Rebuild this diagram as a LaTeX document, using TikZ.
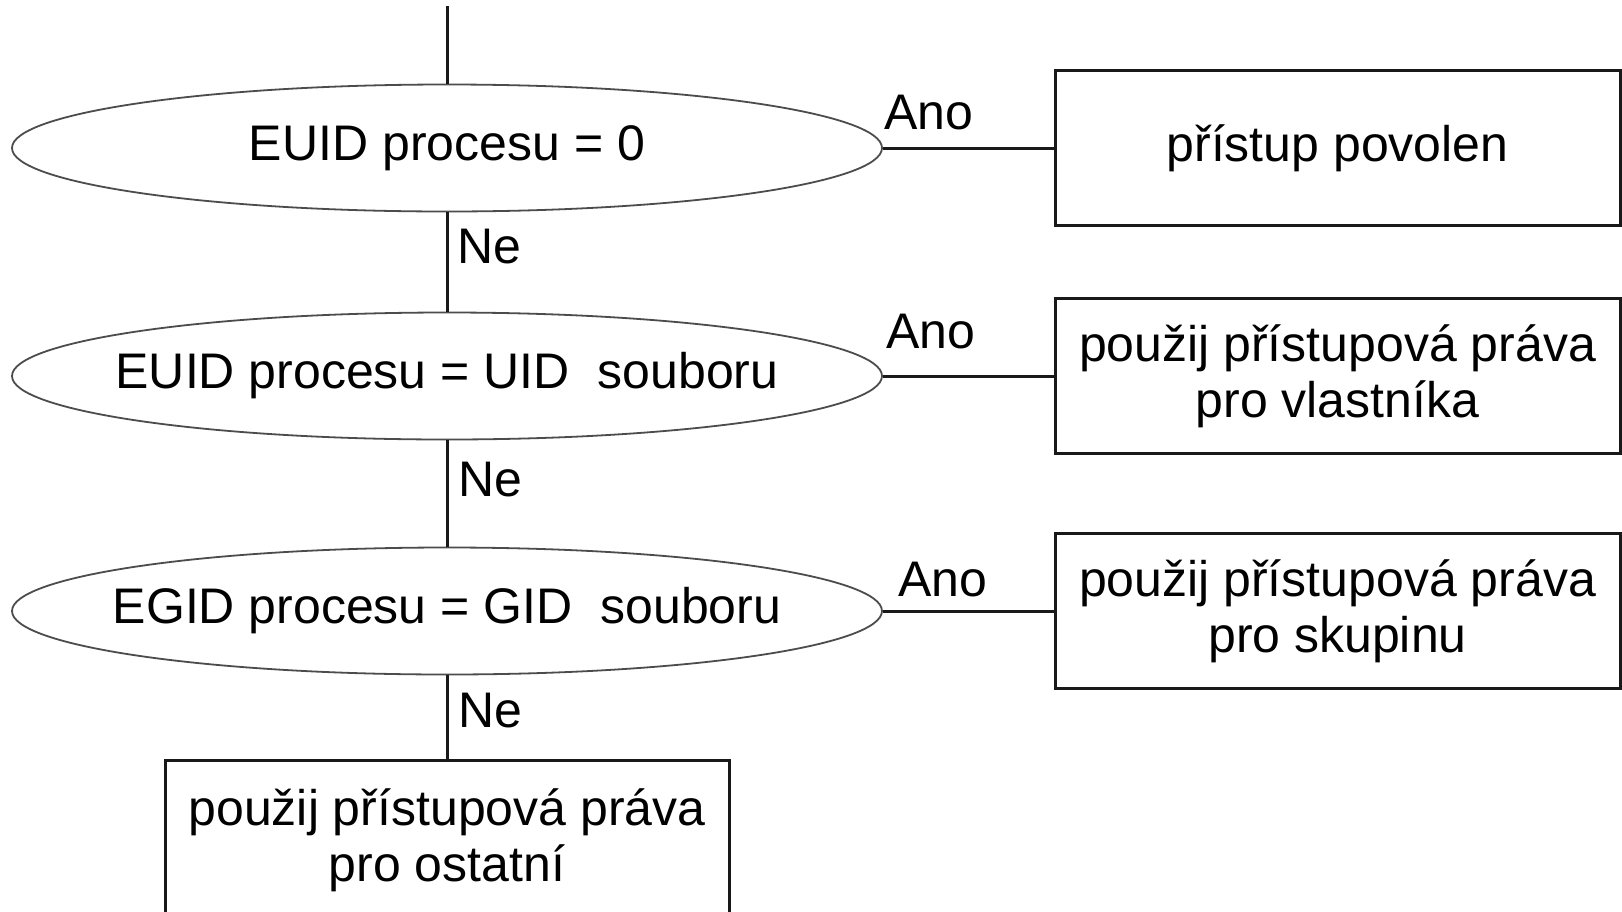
\documentclass[tikz,border=0pt]{standalone}
\usepackage{fontspec}
\setmainfont{Liberation Sans}
\usetikzlibrary{shapes.geometric}
\newcommand{\zerowidth}[1]{\makebox[0pt][c]{#1}}
\tikzset{
  every node/.style={font=\fontsize{50}{56}\selectfont, text=black},
  test/.style={ellipse, draw=black!70, line width=1.8pt, inner sep=0pt,
               minimum width=870pt, minimum height=127pt},
  action/.style={rectangle, draw=black!90, line width=3pt, align=center,
                 minimum width=565pt, minimum height=155pt, inner sep=0pt},
  link/.style={draw=black!90, line width=3pt},
  branch/.style={anchor=west, inner sep=0pt}
}
\begin{document}
\begin{tikzpicture}[x=1pt, y=1pt]
  \useasboundingbox (0,0) rectangle (1622,-911);
  \clip (0,0) rectangle (1622,-911);
  \fill[white] (0,0) rectangle (1622,-911);

  % decisions
  \node[test] (e1) at (447,-148) {\zerowidth{EUID procesu = 0}};
  \node[test] (e2) at (447,-376) {\zerowidth{EUID procesu = UID\ \ souboru}};
  \node[test] (e3) at (447,-611) {\zerowidth{EGID procesu = GID\ \ souboru}};

  % outcomes
  \node[action] (b1) at (1337.5,-148) {přístup povolen};
  \node[action] (b2) at (1337.5,-376) {použij přístupová práva\\pro vlastníka};
  \node[action] (b3) at (1337.5,-611) {použij přístupová práva\\pro skupinu};
  \node[action, minimum width=564pt, minimum height=160pt] (b4) at (447,-840)
       {použij přístupová práva\\pro ostatní};

  % entry and chain
  \coordinate (start) at (447,-6);
  \draw[link] (start) -- (e1.north);
  \draw[link] (e1.south) -- (e2.north);
  \draw[link] (e2.south) -- (e3.north);
  \draw[link] (e3.south) -- (e3.south |- b4.north);

  \draw[link] (e1.east) -- (b1.west);
  \draw[link] (e2.east) -- (b2.west);
  \draw[link] (e3.east) -- (b3.west);

  % branch labels
  \node[branch] (a1) at (884,-113) {Ano};
  \node[branch] (a2) at (886,-332) {Ano};
  \node[branch] (a3) at (898,-580) {Ano};
  \node[branch] (n1) at (457,-247) {Ne};
  \node[branch] (n2) at (458,-480) {Ne};
  \node[branch] (n3) at (458,-711) {Ne};
\end{tikzpicture}
\end{document}
